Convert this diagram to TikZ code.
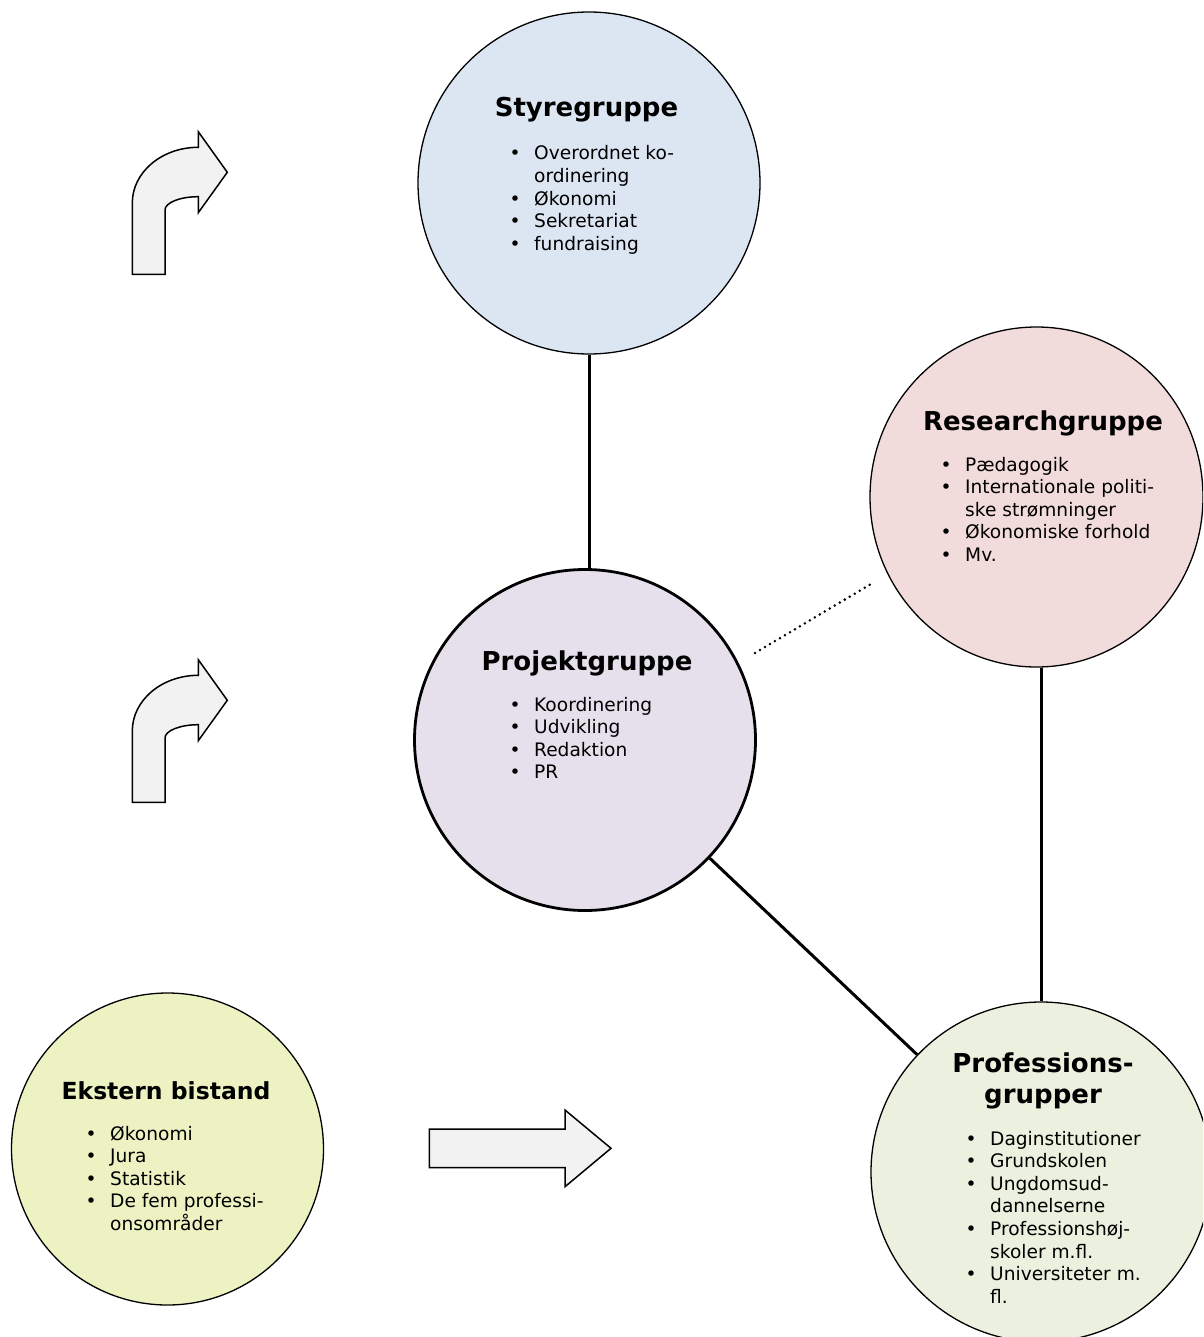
\documentclass[tikz,border=0pt]{standalone}
\usepackage{fontspec}
\setmainfont{DejaVu Sans}
\usetikzlibrary{shapes.geometric}
\definecolor{styc}{HTML}{DCE6F2}
\definecolor{resc}{HTML}{F2DCDB}
\definecolor{projc}{HTML}{E5E0EC}
\definecolor{profc}{HTML}{EBF1DE}
\definecolor{extc}{HTML}{EDF2C3}
\definecolor{arrg}{HTML}{F2F2F2}
\newcommand\mybul{\makebox[38pt]{•}}
\tikzset{
  grp/.style={circle,draw=black,line width=1.3pt,inner sep=0pt},
  conn/.style={draw=black,line width=3pt},
  dotline/.style={draw=black,line width=2.8pt,line cap=round,dash pattern=on 0pt off 5.8pt},
  ttl/.style={font=\fontsize{26}{31.5}\selectfont\bfseries,inner sep=0pt,anchor=base},
  lst/.style={font=\fontsize{18.6}{22.6}\selectfont,inner sep=0pt,anchor=base west},
  arrowfill/.style={draw=black,line width=1.5pt,fill=arrg,line join=miter},
  bentarr/.pic={
    \path[arrowfill] (132.3,274.3) -- (165,274.3) -- (165,210)
      .. controls (165,202.7) and (179.9,196.7) .. (198.3,196.7)
      -- (198.3,212.7) -- (227.3,172.3) -- (198.3,131.7) -- (198.3,147.3)
      .. controls (161.8,147.3) and (132.3,172.2) .. (132.3,203) -- cycle;
  }
}
\begin{document}
\begin{tikzpicture}[x=1pt,y=-1pt]
\fill[white] (0,0) rectangle (1203,1337);
\useasboundingbox (0,0) rectangle (1203,1337);
\clip (0,0) rectangle (1203,1337);

% circles
\node[grp,fill=styc,minimum size=342pt] (sty) at (589,183) {};
\node[ellipse,draw=black,line width=1.3pt,inner sep=0pt,fill=resc,minimum width=333pt,minimum height=340pt] (res) at (1036.5,497) {};
\node[grp,fill=projc,line width=2.8pt,minimum size=341pt] (proj) at (585,740) {};
\node[grp,fill=profc,minimum size=340pt] (prof) at (1041,1172) {};
\node[grp,fill=extc,minimum size=312pt] (ext) at (167.5,1149) {};

% connectors
\draw[conn] (sty.south) -- (sty.south |- proj.north);
\draw[conn] (proj) -- (prof);
\draw[conn] (prof.north |- res.south) -- (prof.north);
\coordinate (d1) at (755,653);
\coordinate (d2) at (871,584);
\draw[dotline] (d1) -- (d2);

% arrows
\pic (ba1) at (0,0) {bentarr};
\pic (ba2) at (0,528) {bentarr};
\path[arrowfill] (429.3,1129) -- (565,1129) -- (565,1110) -- (611,1148.3)
  -- (565,1186.7) -- (565,1167.7) -- (429.3,1167.7) -- cycle;

% texts
\node[ttl] (styT) at (586.5,117) {Styregruppe};
\node[lst] (styL) at (496,160) {\begin{tabular}[t]{@{}l@{}l@{}}\mybul&Overordnet ko-\\&ordinering\\\mybul&Økonomi\\\mybul&Sekretariat\\\mybul&fundraising\end{tabular}};

\node[ttl] (resT) at (1043,430) {Researchgruppe};
\node[lst] (resL) at (927,471) {\begin{tabular}[t]{@{}l@{}l@{}}\mybul&Pædagogik\\\mybul&Internationale politi-\\&ske strømninger\\\mybul&Økonomiske forhold\\\mybul&Mv.\end{tabular}};

\node[ttl] (projT) at (587,670) {Projektgruppe};
\node[lst] (projL) at (496,711) {\begin{tabular}[t]{@{}l@{}l@{}}\mybul&Koordinering\\\mybul&Udvikling\\\mybul&Redaktion\\\mybul&PR\end{tabular}};

\node[ttl] (profT) at (1043,1072) {\begin{tabular}[t]{@{}c@{}}Professions-\\grupper\end{tabular}};
\node[lst] (profL) at (952,1145) {\begin{tabular}[t]{@{}l@{}l@{}}\mybul&Daginstitutioner\\\mybul&Grundskolen\\\mybul&Ungdomsud-\\&dannelserne\\\mybul&Professionshøj-\\&skoler m.fl.\\\mybul&Universiteter m.\\&fl.\end{tabular}};

\node[ttl,font=\fontsize{23.5}{28}\selectfont\bfseries] (extT) at (166,1099) {Ekstern bistand};
\node[lst] (extL) at (72,1140) {\begin{tabular}[t]{@{}l@{}l@{}}\mybul&Økonomi\\\mybul&Jura\\\mybul&Statistik\\\mybul&De fem professi-\\&onsområder\end{tabular}};
\end{tikzpicture}
\end{document}
